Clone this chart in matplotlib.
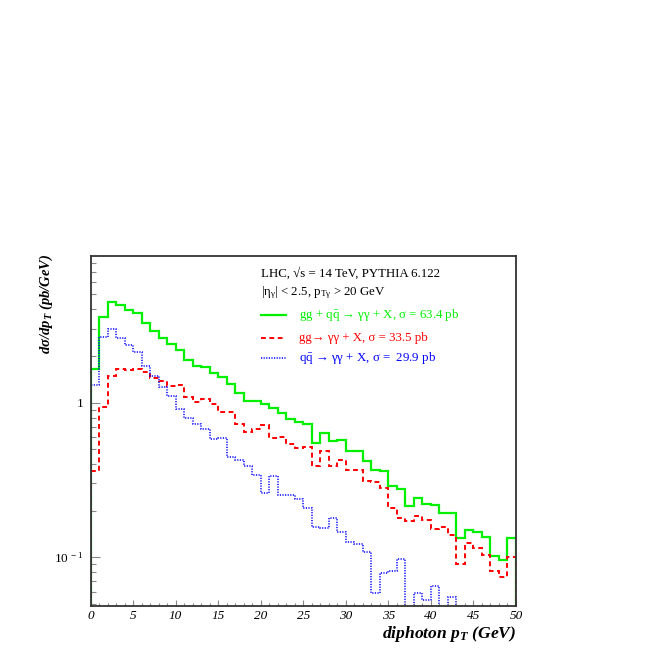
import numpy as np
import matplotlib
matplotlib.use("Agg")
import matplotlib.pyplot as plt
from matplotlib.ticker import FixedLocator, FixedFormatter, LogLocator, MultipleLocator, NullFormatter

plt.rcParams['font.family'] = ['Liberation Serif', 'DejaVu Serif']
plt.rcParams['mathtext.fontset'] = 'custom'
plt.rcParams['mathtext.rm'] = 'Liberation Serif'
plt.rcParams['mathtext.it'] = 'Liberation Serif:italic'
plt.rcParams['mathtext.bf'] = 'Liberation Serif:bold:italic'

# ---- data (bin edges 0..50 GeV, 1 GeV bins) ----
bin_edges = np.arange(0, 51, 1)
total = [1.64, 3.60, 4.46, 4.30, 3.96, 3.79, 3.28, 2.92, 2.61, 2.39, 2.19, 1.88, 1.73,
         1.71, 1.56, 1.47, 1.31, 1.16, 1.03, 1.02, 0.985, 0.928, 0.854, 0.788, 0.745,
         0.728, 0.546, 0.640, 0.565, 0.571, 0.487, 0.487, 0.418, 0.369, 0.360, 0.289, 0.275, 0.215,
         0.243, 0.221, 0.217, 0.194, 0.194, 0.133, 0.150, 0.145, 0.136, 0.102, 0.0957, 0.133]
gg = [0.363, 0.93, 1.49, 1.65, 1.63, 1.66, 1.57, 1.44, 1.37, 1.28, 1.30, 1.09, 1.01,
      1.05, 0.985, 0.875, 0.866, 0.728, 0.646, 0.679, 0.717, 0.594, 0.597, 0.538, 0.509,
      0.519, 0.386, 0.487, 0.390, 0.426, 0.367, 0.366, 0.310, 0.308, 0.279, 0.208, 0.180, 0.171,
      0.185, 0.174, 0.153, 0.158, 0.139, 0.0905, 0.123, 0.114, 0.1035, 0.0819, 0.075, 0.101]
qq = [1.29, 2.67, 3.00, 2.63, 2.34, 2.12, 1.72, 1.49, 1.26, 1.11, 0.906, 0.793, 0.732,
      0.676, 0.585, 0.591, 0.446, 0.428, 0.386, 0.342, 0.262, 0.337, 0.253, 0.253, 0.237,
      0.207, 0.158, 0.155, 0.179, 0.146, 0.126, 0.122, 0.108, 0.059, 0.0795, 0.0819, 0.097,
      0.0, 0.059, 0.053, 0.0652, 0.0, 0.0556, 0.0, 0.0, 0.0, 0.0, 0.0, 0.0, 0.0]

header1 = "LHC, √s = 14 TeV, PYTHIA 6.122"
header2 = r"|η$_{\mathrm{γ}}$| < 2.5, p$_{\mathrm{Tγ}}$ > 20 GeV"
labels = [r"gg + $\mathrm{q\bar{q}}$ → γγ + X, σ = 63.4 pb",
          r"gg→ γγ + X, σ = 33.5 pb",
          r"$\mathrm{q\bar{q}}$ → γγ + X, σ =  29.9 pb"]
ytick_vals = [0.1, 1.0]
ytick_labels = [r"$\mathit{10^{\ -1}}$", r"$\mathit{1}$"]

W = H = 654
fig = plt.figure(figsize=(6.54, 6.54), dpi=100)
L, R, T, B = 90.5, 516.0, 255.7, 605.7
ax = fig.add_axes([L / W, 1 - B / H, (R - L) / W, (B - T) / H])

def axpos(px, py):
    return ((px - L) / (R - L), (B - py) / (B - T))

green, red, blue = '#00f000', '#ff0000', '#0000ff'
ax.stairs(total, bin_edges, baseline=1e-5, color=green, lw=1.6)
ax.stairs(gg, bin_edges, baseline=1e-5, color=red, lw=1.4, linestyle=(0, (2.5, 1.8)))
ax.stairs(np.where(np.array(qq) > 0, qq, 1e-5), bin_edges, baseline=1e-5,
          color=blue, lw=1.1, linestyle=(0, (0.8, 0.9)))

ax.set_yscale('log')
ax.set_xlim(0, 50)
ax.set_ylim(0.0486, 8.9)

ax.xaxis.set_major_locator(MultipleLocator(5))
ax.xaxis.set_minor_locator(MultipleLocator(1))
ax.yaxis.set_major_locator(FixedLocator(ytick_vals))
ax.yaxis.set_major_formatter(FixedFormatter(ytick_labels))
ax.yaxis.set_minor_locator(LogLocator(base=10, subs=np.arange(2, 10)))
ax.yaxis.set_minor_formatter(NullFormatter())
ax.tick_params(axis='both', which='both', direction='in', color='#888888', width=0.8,
               top=False, right=False)
ax.tick_params(axis='x', which='major', length=4.2, pad=3, labelsize=9.5)
ax.tick_params(axis='x', which='minor', length=2.0)
ax.tick_params(axis='y', which='major', length=6.5, pad=5, labelsize=9.5)
ax.tick_params(axis='y', which='minor', length=3.3)
for lab in ax.get_xticklabels():
    lab.set_style('italic')
for s in ax.spines.values():
    s.set_color('#333333')
    s.set_linewidth(1.3)

fs = 9.3
x0, y0 = axpos(260.7, 273)
ax.text(x0, y0, header1, transform=ax.transAxes, fontsize=fs, va='center', ha='left')
x0, y0 = axpos(260.7, 292.3)
ax.text(x0, y0, header2, transform=ax.transAxes, fontsize=fs, va='center', ha='left')

rows = [(314.7, green, '-', 1.6), (337.5, red, (0, (2.5, 1.8)), 1.4), (358.0, blue, (0, (0.8, 0.9)), 1.1)]
for (py, col, ls, lw), lab in zip(rows, labels):
    xa, ya = axpos(260.5, py)
    xb, _ = axpos(286.0, py)
    ax.plot([xa, xb], [ya, ya], transform=ax.transAxes, color=col, ls=ls, lw=lw)
    xt, _ = axpos(299.0, py)
    ax.text(xt, ya, lab, transform=ax.transAxes, fontsize=fs, color=col, va='center', ha='left')

fig.text(46 / W, 1 - 304 / H, r"dσ/dp$_{\mathbf{T}}$ (pb/GeV)", rotation=90,
         fontsize=10.5, fontweight='bold', style='italic', ha='center', va='center')
fig.text(516.7 / W, 1 - 634 / H, r"diphoton p$_{\mathbf{T}}$ (GeV)",
         fontsize=12.6, fontweight='bold', style='italic', ha='right', va='center')

fig.savefig('out.png', dpi=100)
